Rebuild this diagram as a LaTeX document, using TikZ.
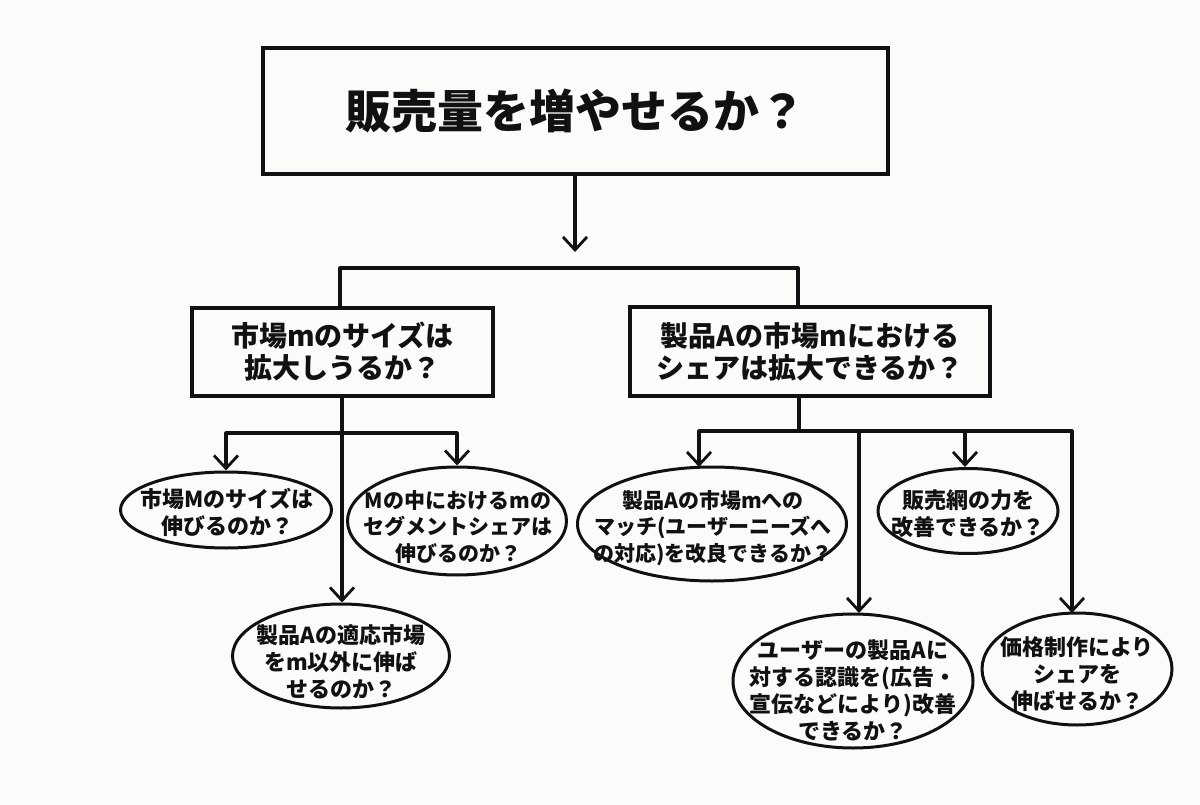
\documentclass[tikz,border=0pt]{standalone}
\usepackage{fontspec}
\setmainfont{Noto Sans CJK JP}
\usetikzlibrary{arrows.meta,shapes.geometric}
\definecolor{ink}{HTML}{111111}
\definecolor{bg}{HTML}{FBFBFA}
\begin{document}
\begin{tikzpicture}[x=1pt,y=-1pt,
  conn/.style={line width=3.1pt, draw=ink, line cap=round, line join=round},
  arr/.style={conn,-{Straight Barb[length=13pt,width=24pt,line width=2.8pt]}},
  rbox/.style={draw=ink,line width=3.2pt,rectangle,inner sep=0pt,align=center,
    font=\fontsize{28}{32}\selectfont\bfseries,text=ink},
  tbox/.style={rbox,font=\fontsize{46}{50}\selectfont\bfseries},
  qell/.style={draw=ink,line width=3pt,ellipse,inner sep=0pt},
  qtext/.style={inner sep=0pt,align=center,
    font=\fontsize{22}{27}\selectfont\bfseries,text=ink},
  qtexts/.style={qtext,font=\fontsize{21}{26.5}\selectfont\bfseries}]
\fill[bg] (0,0) rectangle (1200,805);
\useasboundingbox (0,0) rectangle (1200,805);

% boxes
\node[tbox,minimum width=625pt,minimum height=126pt] (title) at (575.5,111) {販売量を増やせるか？};
\node[rbox,minimum width=301pt,minimum height=88pt] (b1) at (342.5,352) {市場mのサイズは\\拡大しうるか？};
\node[rbox,minimum width=360pt,minimum height=89pt] (b2) at (810,351.5) {製品Aの市場mにおける\\シェアは拡大できるか？};

% ellipses
\node[qell,minimum width=211pt,minimum height=76pt] (e1) at (226,510) {};
\node[qell,minimum width=219pt,minimum height=108pt] (e2) at (457,521) {};
\node[qell,minimum width=217pt,minimum height=104pt] (e3) at (341,656) {};
\node[qell,minimum width=269pt,minimum height=114pt] (e4) at (712,524) {};
\node[qell,minimum width=240pt,minimum height=134pt] (e5) at (853,681) {};
\node[qell,minimum width=180pt,minimum height=85pt] (e6) at (968,511) {};
\node[qell,minimum width=190pt,minimum height=112pt] (e7) at (1077,669) {};

% ellipse texts
\node[qtext] (e1t) at (227,512) {市場Mのサイズは\\伸びるのか？};
\node[qtexts] (e2t) at (458,527) {Mの中におけるmの\\セグメントシェアは\\伸びるのか？};
\node[qtext] (e3t) at (341,662) {製品Aの適応市場\\をm以外に伸ば\\せるのか？};
\node[qtexts] (e4t) at (713,528) {製品Aの市場mへの\\マッチ(ユーザーニーズへ\\の対応)を改良できるか？};
\node[qtext] (e5t) at (853,690) {ユーザーの製品Aに\\対する認識を(広告・\\宣伝などにより)改善\\できるか？};
\node[qtext] (e6t) at (968,514) {販売網の力を\\改善できるか？};
\node[qtext] (e7t) at (1077,674) {価格制作により\\シェアを\\伸ばせるか？};

% junction coordinates
\coordinate (t1) at (575,252);
\coordinate (j1) at (340,268);
\coordinate (j2) at (798,268);
\coordinate (h1) at (342,433);
\coordinate (h2) at (799,431);
\coordinate (a4) at (699,467);
\coordinate (a5) at (859,613);
\coordinate (a6) at (965,467);
\coordinate (a7) at (1072,613);

% connectors
\draw[arr] (title.south -| t1) -- (t1);
\draw[conn] (b1.north -| j1) -- (j1) -- (j2) -- (b2.north -| j2);

\draw[arr] (b1.south -| h1) -- (h1 |- e3.north);
\draw[arr] (h1) -| (e1.north);
\draw[arr] (h1) -| (e2.north);

\draw[conn] (b2.south -| h2) -- (h2);
\draw[arr] (h2) -| (a4);
\draw[arr] (h2) -| (a5);
\draw[arr] (h2) -| (a6);
\draw[arr] (h2) -| (a7);
\end{tikzpicture}
\end{document}
